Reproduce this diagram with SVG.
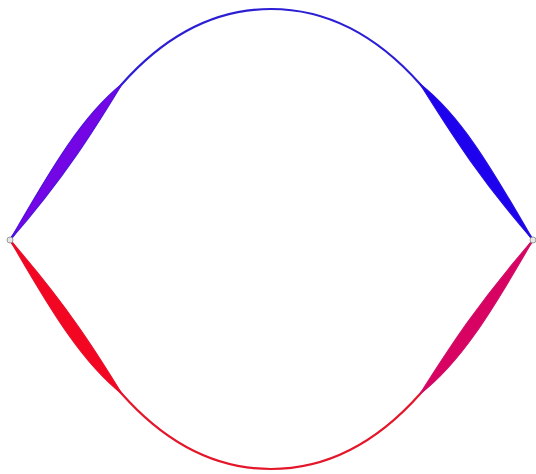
<svg xmlns="http://www.w3.org/2000/svg" width="536" height="474" viewBox="0 0 536 474">
<style>
.top{fill:none;stroke:#2b1ed4;stroke-width:2.2}
.bot{fill:none;stroke:#e4162a;stroke-width:2.2}
.node{fill:#e6e6e6;stroke:#999;stroke-width:1}
</style>
<rect width="536" height="474" fill="#fff"/>
<g id="connectors">
<path class="top" d="M10,240 C60,170 90,120 122,84 C170,30 220,9 271,9 C322,9 372,30 420,84 C453,120 483,170 533,240"/>
<path class="bot" d="M10,240 C60,310 90,358 122,394 C170,448 220,469 271,469 C322,469 372,448 420,394 C453,358 483,310 533,240"/>
<path d="M10,240 C66.9,175 96.9,125 122,84 C83.1,115 53.1,165 10,240 Z" fill="#7405e4" stroke="#4c14e0" stroke-width="1.2"/>
<path d="M533,240 C476.1,175 446.1,125 420,84 C459.9,115 489.9,165 533,240 Z" fill="#1e02ee" stroke="#2410e0" stroke-width="1.2"/>
<path d="M10,240 C66.9,305 96.9,353 122,394 C83.1,363 53.1,315 10,240 Z" fill="#f20622" stroke="#e8102a" stroke-width="1.2"/>
<path d="M533,240 C476.1,305 446.1,353 420,394 C459.9,363 489.9,315 533,240 Z" fill="#d80262" stroke="#d0106a" stroke-width="1.2"/>
</g>
<g id="node-left"><circle class="node" cx="10" cy="240" r="3"/></g>
<g id="node-right"><circle class="node" cx="533" cy="240" r="3"/></g>
</svg>
